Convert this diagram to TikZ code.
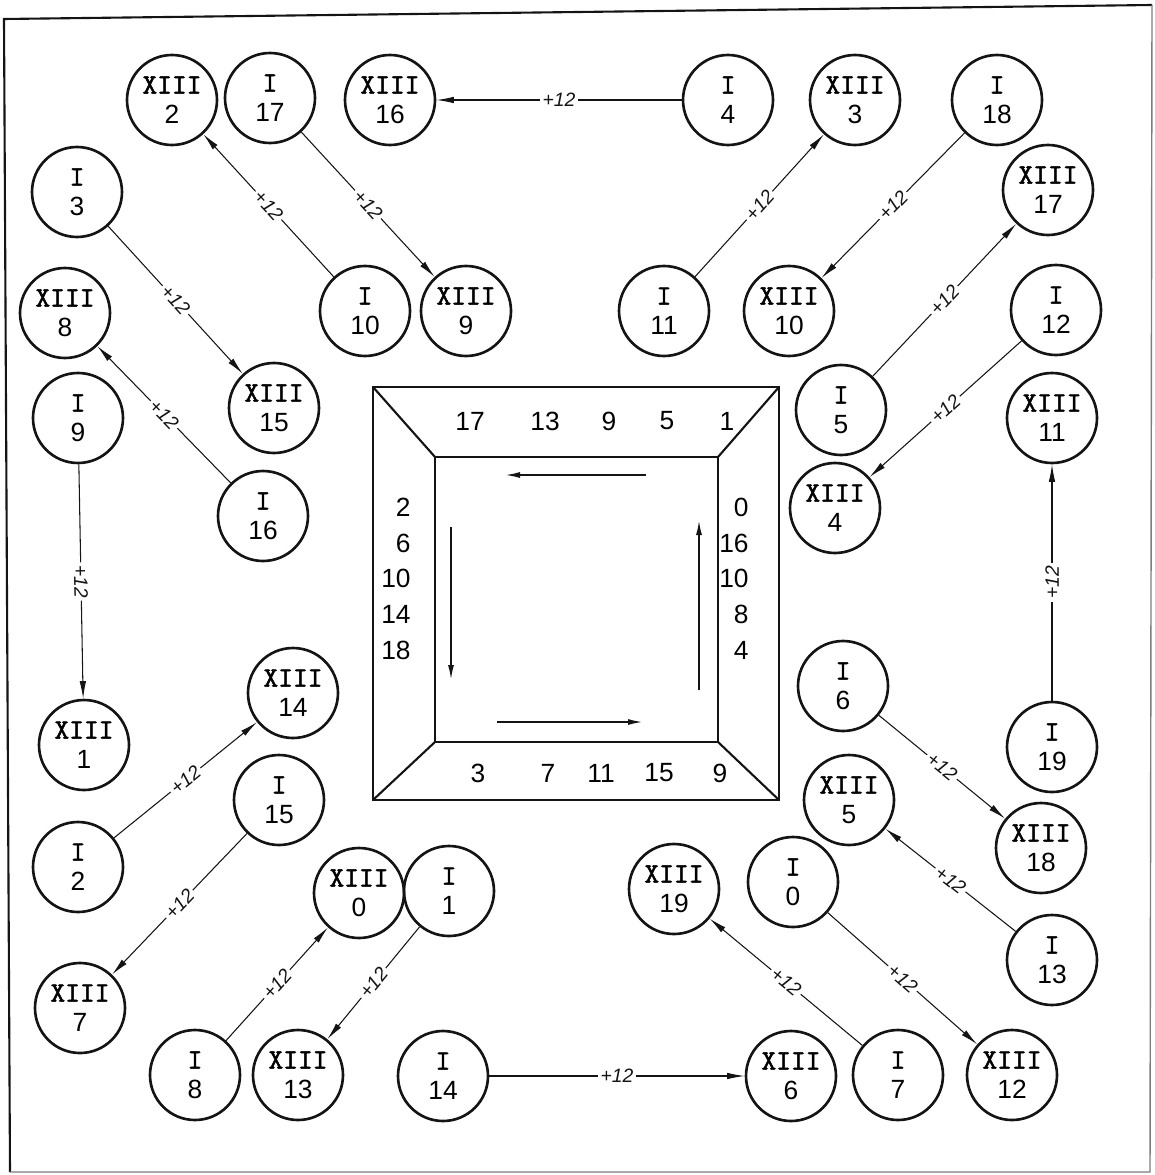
\documentclass[tikz,border=0pt]{standalone}
\usepackage{fontspec}
\setmainfont{Liberation Sans}
\newfontfamily\romfont{lmmono10-regular.otf}[FakeBold=1.6]
\usepackage{tikz}
\usetikzlibrary{arrows.meta}
\definecolor{inkblack}{RGB}{20,20,20}
\definecolor{edgegray}{RGB}{125,125,125}
\newcommand{\romlab}[1]{{\romfont\fontsize{16}{17}\selectfont #1}}
\tikzset{
  ring/.style={
    circle,
    draw=inkblack,
    line width=1.5pt,
    minimum size=18mm,
    inner sep=0pt,
    align=center,
    font=\fontsize{15}{17}\selectfont
  },
  plus/.style={
    sloped,
    fill=white,
    inner sep=1.5pt,
    font=\fontsize{11}{11}\selectfont\itshape
  },
  frnum/.style={
    inner sep=0pt,
    font=\fontsize{15}{15}\selectfont
  },
  arr/.style={-{Latex[length=3.5mm,width=1.3mm]},line width=0.6pt,inkblack},
  boxline/.style={line width=1.2pt,inkblack},
  flow/.style={-{Latex[length=3mm,width=1.2mm]},line width=1pt,inkblack}
}

\begin{document}
\begin{tikzpicture}[x=0.2mm,y=-0.2mm]
        \useasboundingbox (0,0) rectangle (1154,1175);

        % sheet border
        \draw[line width=1.2pt,inkblack] (10,1172) -- (4,19) -- (1152,5);
        \draw[line width=0.8pt,edgegray] (1152,5) -- (1150,1172) -- (10,1172);

        % top row
        \node[ring] (x2) at (172,100) {\romlab{XIII}\\2};
        \node[ring] (i17) at (270,98) {\romlab{I}\\17};
        \node[ring] (x16) at (390,100) {\romlab{XIII}\\16};
        \node[ring] (i4) at (728,100) {\romlab{I}\\4};
        \node[ring] (x3) at (855,100) {\romlab{XIII}\\3};
        \node[ring] (i18) at (997,100) {\romlab{I}\\18};

        % left side
        \node[ring] (i3) at (77,192) {\romlab{I}\\3};
        \node[ring] (x8) at (65,313) {\romlab{XIII}\\8};
        \node[ring] (i9) at (78,418) {\romlab{I}\\9};
        \node[ring] (x1) at (84,745) {\romlab{XIII}\\1};
        \node[ring] (i2) at (78,867) {\romlab{I}\\2};
        \node[ring] (x7) at (80,1008) {\romlab{XIII}\\7};
        \node[ring] (i10) at (365,311) {\romlab{I}\\10};
        \node[ring] (x9) at (466,311) {\romlab{XIII}\\9};
        \node[ring] (x15) at (274,408) {\romlab{XIII}\\15};
        \node[ring] (i16) at (263,516) {\romlab{I}\\16};
        \node[ring] (x14) at (293,693) {\romlab{XIII}\\14};
        \node[ring] (i15) at (279,800) {\romlab{I}\\15};

        % bottom row
        \node[ring] (x0) at (359,893) {\romlab{XIII}\\0};
        \node[ring] (i1) at (449,891) {\romlab{I}\\1};
        \node[ring] (i8) at (195,1075) {\romlab{I}\\8};
        \node[ring] (x13) at (298,1075) {\romlab{XIII}\\13};
        \node[ring] (i14) at (443,1076) {\romlab{I}\\14};
        \node[ring] (x6) at (791,1076) {\romlab{XIII}\\6};
        \node[ring] (i7) at (898,1075) {\romlab{I}\\7};
        \node[ring] (x12) at (1012,1075) {\romlab{XIII}\\12};
        \node[ring] (x19) at (674,889) {\romlab{XIII}\\19};
        \node[ring] (i0) at (793,882) {\romlab{I}\\0};

        % right side
        \node[ring] (i11) at (664,311) {\romlab{I}\\11};
        \node[ring] (x10) at (789,311) {\romlab{XIII}\\10};
        \node[ring] (x17) at (1048,190) {\romlab{XIII}\\17};
        \node[ring] (i12) at (1056,310) {\romlab{I}\\12};
        \node[ring] (i5) at (841,410) {\romlab{I}\\5};
        \node[ring] (x11) at (1052,418) {\romlab{XIII}\\11};
        \node[ring] (x4) at (835,508) {\romlab{XIII}\\4};
        \node[ring] (i6) at (843,686) {\romlab{I}\\6};
        \node[ring] (i19) at (1052,747) {\romlab{I}\\19};
        \node[ring] (x5) at (849,800) {\romlab{XIII}\\5};
        \node[ring] (x18) at (1041,848) {\romlab{XIII}\\18};
        \node[ring] (i13) at (1052,960) {\romlab{I}\\13};

        % I n -> XIII n+12
        \draw[arr] (i4) -- node[plus] {+12} (x16);
        \draw[arr] (i10) -- node[plus] {+12} (x2);
        \draw[arr] (i17) -- node[plus] {+12} (x9);
        \draw[arr] (i3) -- node[plus] {+12} (x15);
        \draw[arr] (i16) -- node[plus] {+12} (x8);
        \draw[arr] (i9) -- node[plus] {+12} (x1);
        \draw[arr] (i2) -- node[plus] {+12} (x14);
        \draw[arr] (i15) -- node[plus] {+12} (x7);
        \draw[arr] (i8) -- node[plus] {+12} (x0);
        \draw[arr] (i1) -- node[plus] {+12} (x13);
        \draw[arr] (i14) -- node[plus] {+12} (x6);
        \draw[arr] (i7) -- node[plus] {+12} (x19);
        \draw[arr] (i0) -- node[plus] {+12} (x12);
        \draw[arr] (i13) -- node[plus] {+12} (x5);
        \draw[arr] (i6) -- node[plus] {+12} (x18);
        \draw[arr] (i19) -- node[plus] {+12} (x11);
        \draw[arr] (i12) -- node[plus] {+12} (x4);
        \draw[arr] (i5) -- node[plus] {+12} (x17);
        \draw[arr] (i18) -- node[plus] {+12} (x10);
        \draw[arr] (i11) -- node[plus] {+12} (x3);

        % central frame
        \draw[boxline] (373,387) rectangle (779,800);
        \draw[boxline] (435,457) rectangle (718,742);
        \draw[boxline] (373,387) -- (435,457) (779,387) -- (718,457)
          (779,800) -- (718,742) (373,800) -- (435,742);

        \foreach \n/\x [count=\k] in {17/470,13/545,9/609,5/667,1/727}
          \node[frnum] (top\k) at (\x,421) {\n};
        \foreach \n/\x [count=\k] in {3/478,7/548,11/601,15/659,9/720}
          \node[frnum] (bot\k) at (\x,773) {\n};
        \foreach \n/\y [count=\k] in {2/507,6/543,10/578,14/614,18/650}
          \node[frnum,anchor=east] (lft\k) at (411,\y) {\n};
        \foreach \n/\y [count=\k] in {0/507,16/543,10/578,8/614,4/650}
          \node[frnum,anchor=east] (rgt\k) at (749,\y) {\n};

        \draw[flow] (646,475) -- (505,475);
        \draw[flow] (451,527) -- (451,680);
        \draw[flow] (497,722) -- (643,722);
        \draw[flow] (699,690) -- (699,520);
      \end{tikzpicture}
\end{document}
